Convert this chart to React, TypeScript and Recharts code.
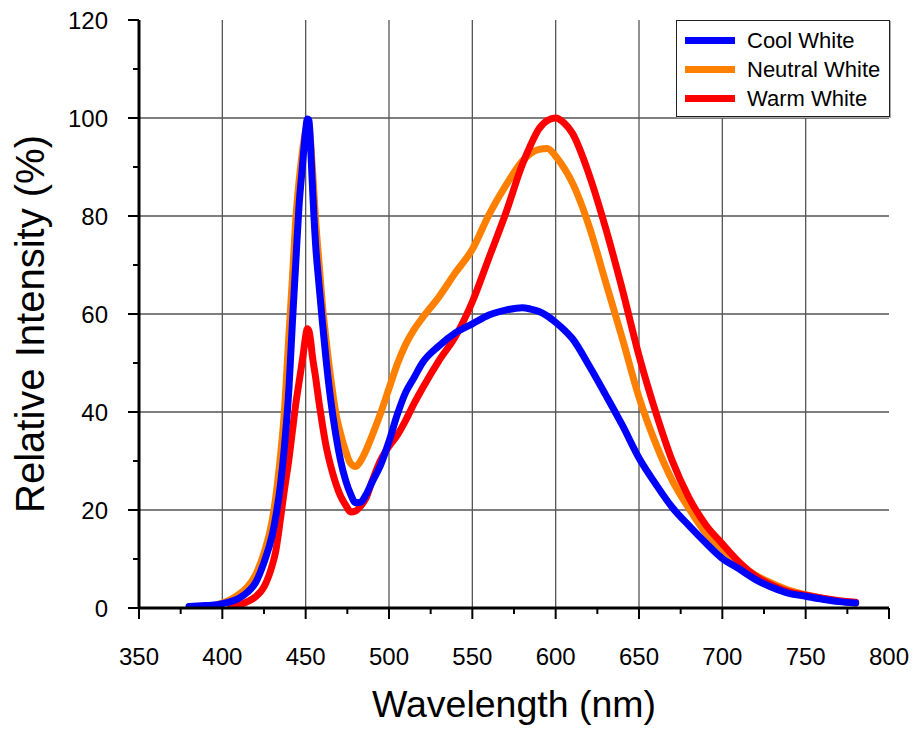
import React from 'react';
import { LineChart, Line, XAxis, YAxis, CartesianGrid, Legend, Label } from 'recharts';

const wavelengths = [
  380, 390, 395, 400, 405, 410, 415, 420, 425, 430,
  432, 435, 437, 440, 442, 444, 446, 448, 449, 450,
  451, 452, 453, 454, 456, 458, 460, 462, 465, 468,
  471, 474, 477, 480, 483, 486, 490, 495, 500, 505,
  510, 515, 520, 530, 540, 550, 560, 570, 580, 585,
  590, 595, 600, 605, 610, 620, 630, 640, 650, 660,
  670, 680, 690, 700, 710, 720, 730, 740, 750, 760,
  770, 780,
];

const coolWhite = [
  0.3, 0.5, 0.6, 0.9, 1.3, 2.0, 3.2, 5.2, 9.3, 15,
  18.5, 25.5, 32, 45, 58, 70, 82, 90, 94, 97.5,
  99.8, 99.5, 94, 86.5, 74, 66, 58.5, 51.5, 42.5, 35.5,
  30, 26, 23.2, 21.5, 21.6, 23, 25.8, 29.2, 34, 39.5,
  44, 47, 50, 53.5, 56.2, 58, 59.8, 60.8, 61.3, 61,
  60.5, 59.6, 58.3, 56.8, 55, 49.5, 43.5, 37.3, 30.6, 25.3,
  20.5, 16.8, 13.3, 10.1, 8, 5.8, 4.2, 3.0, 2.4, 1.8,
  1.3, 1.0,
];

const neutralWhite = [
  null, null, 0.5, 1.0, 1.7, 2.8, 4.3, 6.8, 11.2, 18,
  22.5, 31.5, 39, 56, 67, 79, 87, 93, 95.5, 97.5,
  98.6, 98, 95, 90, 79, 70.5, 62, 55.5, 47, 40,
  35.5, 32, 29.5, 28.9, 30, 32, 35.3, 39.8, 44.8, 49.8,
  53.8, 56.8, 59.2, 63.5, 68.5, 73.2, 80.3, 86.2, 91.2, 92.8,
  93.6, 93.8, 92.2, 89.8, 86.8, 78, 66.5, 55, 43, 33.6,
  26, 20.3, 15.3, 12, 9, 6.7, 5, 3.6, 2.7, 2.0,
  1.4, 1.0,
];

const warmWhite = [
  null, null, null, null, 0.2, 0.6, 1.3, 2.3, 4.3, 8.8,
  11.5, 18.5, 23.5, 30.5, 36, 41.5, 46, 50.5, 53, 55.5,
  57, 56.5, 54.5, 51.5, 47, 42, 37.5, 33.5, 29, 25.5,
  22.8, 21, 19.6, 19.8, 20.8, 22.3, 26, 30.2, 33, 35.3,
  38.3, 41.7, 44.8, 50.5, 55.5, 62.5, 71.5, 80.5, 90.5, 94.5,
  97.8, 99.5, 100, 99, 96.9, 88.5, 77.5, 65, 51.5, 40,
  30, 22.5, 17, 13.1, 9.4, 6.5, 4.6, 3.3, 2.6, 2.0,
  1.5, 1.2,
];

const seriesKeys = ['cool', 'neutral', 'warm'];
const seriesNames = ['Cool White', 'Neutral White', 'Warm White'];
const seriesColors = ['#0000FF', '#FF8000', '#FF0000'];
const drawOrder = [1, 2, 0];

const xTicks = [350, 375, 400, 425, 450, 475, 500, 525, 550, 575, 600, 625, 650, 675, 700, 725, 750, 775, 800];
const yTicks = [0, 10, 20, 30, 40, 50, 60, 70, 80, 90, 100, 110, 120];
const xGrid = [400, 450, 500, 550, 600, 650, 700, 750];
const yGrid = [20, 40, 60, 80, 100];

const data = wavelengths.map((w, i) => ({
  w,
  cool: coolWhite[i],
  neutral: neutralWhite[i],
  warm: warmWhite[i],
}));

const FONT = '"Liberation Sans", Arial, Helvetica, sans-serif';

const XTick = (props: any) => {
  const { x, y, payload } = props;
  const v = payload.value;
  const major = v % 50 === 0;
  return (
    <g>
      <line x1={x} x2={x} y1={y} y2={y + (major ? 11 : 6)} stroke="#000" strokeWidth={2} />
      {major && (
        <text x={x} y={y + 57} textAnchor="middle" fontSize={24} fontFamily={FONT} fill="#000">
          {v}
        </text>
      )}
    </g>
  );
};

const YTick = (props: any) => {
  const { x, y, payload } = props;
  const v = payload.value;
  const major = v % 20 === 0;
  return (
    <g>
      <line x1={x} x2={x - (major ? 11 : 6)} y1={y} y2={y} stroke="#000" strokeWidth={2} />
      {major && (
        <text x={x - 31} y={y + 8.5} textAnchor="end" fontSize={24} fontFamily={FONT} fill="#000">
          {v}
        </text>
      )}
    </g>
  );
};

const TopTick = (props: any) => {
  const { x, y } = props;
  return <line x1={x} x2={x} y1={y} y2={y + 4} stroke="#000" strokeWidth={1.5} />;
};

const RightTick = (props: any) => {
  const { x, y } = props;
  return <line x1={x} x2={x - 4} y1={y} y2={y} stroke="#333" strokeWidth={1.5} />;
};

const XTitle = (props: any) => {
  const vb = props.viewBox;
  return (
    <text x={vb.x + vb.width / 2} y={vb.y + 109} textAnchor="middle" fontSize={37.5} fontFamily={FONT} fill="#000">
      Wavelength (nm)
    </text>
  );
};

const YTitle = (props: any) => {
  const vb = props.viewBox;
  const cx = vb.x + 44;
  const cy = vb.y + vb.height / 2 + 10;
  return (
    <text x={cx} y={cy} transform={`rotate(-90 ${cx} ${cy})`} textAnchor="middle" fontSize={40} fontFamily={FONT} fill="#000">
      Relative Intensity (%)
    </text>
  );
};

const LegendBox = () => (
  <div
    style={{
      width: 214,
      height: 97,
      boxSizing: 'border-box',
      border: '1.5px solid #222',
      background: '#fff',
      paddingTop: 5,
      boxShadow: '1px 1px 0 #aaa',
    }}
  >
    {seriesNames.map((n, i) => (
      <div key={n} style={{ display: 'flex', alignItems: 'center', height: 29 }}>
        <div style={{ width: 50, height: 7, background: seriesColors[i], marginLeft: 8 }} />
        <span style={{ marginLeft: 12, fontSize: 22, fontFamily: FONT, color: '#000', lineHeight: '29px' }}>{n}</span>
      </div>
    ))}
  </div>
);

export default function App() {
  return (
    <div style={{ position: 'absolute', left: 0, top: 0, width: 916, height: 731, background: '#fff' }}>
      <LineChart width={916} height={731} data={data} margin={{ top: 20, right: 27, bottom: 0, left: 0 }}>
        <CartesianGrid stroke="#555" strokeWidth={1.3} verticalValues={xGrid} horizontalValues={yGrid} />
        <XAxis
          dataKey="w"
          type="number"
          domain={[350, 800]}
          ticks={xTicks}
          interval={0}
          height={123}
          tickSize={0}
          tickMargin={0}
          tick={<XTick />}
          axisLine={{ stroke: '#000', strokeWidth: 3 }}
          allowDataOverflow
        >
          <Label content={<XTitle />} />
        </XAxis>
        <XAxis
          xAxisId="top"
          orientation="top"
          dataKey="w"
          type="number"
          domain={[350, 800]}
          ticks={xTicks}
          interval={0}
          height={0}
          tickSize={0}
          tickMargin={0}
          tick={<TopTick />}
          axisLine={{ stroke: '#000', strokeWidth: 3 }}
        />
        <YAxis
          type="number"
          domain={[0, 120]}
          ticks={yTicks}
          interval={0}
          width={139}
          tickSize={0}
          tickMargin={0}
          tick={<YTick />}
          axisLine={{ stroke: '#000', strokeWidth: 3 }}
          allowDataOverflow
        >
          <Label content={<YTitle />} />
        </YAxis>
        <YAxis
          yAxisId="right"
          orientation="right"
          type="number"
          domain={[0, 120]}
          ticks={yTicks}
          interval={0}
          width={0}
          tickSize={0}
          tickMargin={0}
          tick={<RightTick />}
          axisLine={{ stroke: '#333', strokeWidth: 2 }}
        />
        <Legend
          layout="vertical"
          align="center"
          verticalAlign="middle"
          content={<LegendBox />}
          wrapperStyle={{ top: 20, left: 676, width: 214 }}
        />
        {drawOrder.map((i) => (
          <Line
            key={seriesKeys[i]}
            dataKey={seriesKeys[i]}
            name={seriesNames[i]}
            type="monotone"
            stroke={seriesColors[i]}
            strokeWidth={7}
            dot={false}
            activeDot={false}
            strokeLinejoin="round"
            strokeLinecap="round"
            isAnimationActive={false}
          />
        ))}
      </LineChart>
    </div>
  );
}
